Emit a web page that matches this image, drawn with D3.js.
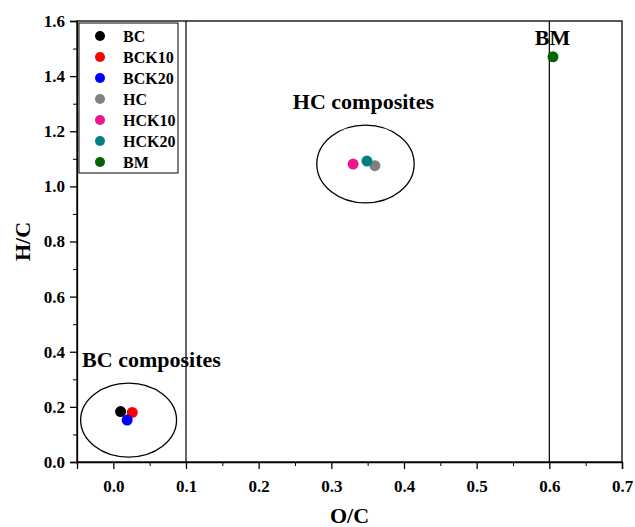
<!DOCTYPE html>
<html>
<head>
<meta charset="utf-8">
<script src="https://cdn.jsdelivr.net/npm/d3@7"></script>
<style>
  body { margin: 0; background: #fff; }
  text { font-family: "Liberation Serif", "Times New Roman", serif; font-weight: bold; }
</style>
</head>
<body>
<svg id="chart"></svg>
<script>
// samples and their elemental ratios
const samples = ["BC", "BCK10", "BCK20", "HC", "HCK10", "HCK20", "BM"];
const oc = [0.010, 0.026, 0.019, 0.360, 0.330, 0.349, 0.605];
const hc = [0.183, 0.180, 0.152, 1.075, 1.081, 1.092, 1.470];
const colors = ["#000000", "#ff0000", "#0000ff", "#808080", "#f0148c", "#008080", "#006400"];

const xTicks = [0, 0.1, 0.2, 0.3, 0.4, 0.5, 0.6, 0.7];
const yTicks = [0, 0.2, 0.4, 0.6, 0.8, 1.0, 1.2, 1.4, 1.6];
const vLines = [0.1, 0.6];

// group outlines (data units: cx, cy, rx, ry) and labels
const groupEllipse = [[0.021, 0.152, 0.066, 0.134], [0.347, 1.081, 0.067, 0.141]];
const labels = [["BC composites", -0.043, 0.345], ["HC composites", 0.247, 1.28], ["BM", 0.580, 1.513]];

const W = 635, H = 527;
const margin = { top: 21, right: 13, bottom: 65, left: 77 },
      width = W - margin.left - margin.right,
      height = H - margin.top - margin.bottom;

const svg = d3.select("#chart").attr("width", W).attr("height", H);
const g = svg.append("g").attr("transform", `translate(${margin.left},${margin.top})`);

const x = d3.scaleLinear().domain([-0.05, 0.7]).range([0, width]);
const y = d3.scaleLinear().domain([0, 1.6]).range([height, 0]);

// frame
g.append("rect").attr("width", width).attr("height", height)
  .attr("fill", "none").attr("stroke", "#000").attr("stroke-width", 1.3);

// minor ticks
const xMinor = d3.range(-0.05, 0.701, 0.05).filter(v => !xTicks.some(t => Math.abs(t - v) < 1e-6));
const yMinor = d3.range(0.1, 1.6, 0.2);
g.append("g").attr("transform", `translate(0,${height})`)
  .call(d3.axisBottom(x).tickValues(xMinor).tickSize(4).tickFormat(""))
  .call(a => a.select(".domain").remove());
g.append("g")
  .call(d3.axisLeft(y).tickValues(yMinor).tickSize(4).tickFormat(""))
  .call(a => a.select(".domain").remove());

// major axes
const xAxis = g.append("g").attr("transform", `translate(0,${height})`)
  .call(d3.axisBottom(x).tickValues(xTicks).tickSize(7).tickPadding(11).tickFormat(d3.format(".1f")));
const yAxis = g.append("g")
  .call(d3.axisLeft(y).tickValues(yTicks).tickSize(7).tickPadding(5).tickFormat(d3.format(".1f")));
[xAxis, yAxis].forEach(a => {
  a.selectAll("text").style("font-size", "17px").style("font-family", "Liberation Serif").style("font-weight", "bold").attr("fill", "#000");
  a.selectAll("line,path").attr("stroke", "#000").attr("stroke-width", 1.3);
});

// vertical reference lines
g.selectAll(".vline").data(vLines).enter().append("line")
  .attr("x1", d => x(d)).attr("x2", d => x(d))
  .attr("y1", 0).attr("y2", height)
  .attr("stroke", "#000").attr("stroke-width", 1.2);

// ellipses
g.selectAll(".grp").data(groupEllipse).enter().append("ellipse")
  .attr("cx", d => x(d[0])).attr("cy", d => y(d[1]))
  .attr("rx", d => x(d[0] + d[2]) - x(d[0]))
  .attr("ry", d => y(d[1]) - y(d[1] + d[3]))
  .attr("fill", "none").attr("stroke", "#000").attr("stroke-width", 1.3);

// points
g.selectAll(".pt").data(samples).enter().append("circle")
  .attr("cx", (d, i) => x(oc[i])).attr("cy", (d, i) => y(hc[i]))
  .attr("r", 5.5).attr("fill", (d, i) => colors[i]);

// labels
g.selectAll(".lab").data(labels).enter().append("text")
  .attr("x", d => x(d[1])).attr("y", d => y(d[2]))
  .style("font-size", "22px").text(d => d[0]);

// axis titles
svg.append("text").attr("x", margin.left + x(0.325)).attr("y", 523)
  .attr("text-anchor", "middle").style("font-size", "22px").text("O/C");
svg.append("text").attr("transform", `translate(30,${margin.top + height / 2}) rotate(-90)`)
  .attr("text-anchor", "middle").style("font-size", "22px").text("H/C");

// legend
const leg = g.append("g").attr("transform", "translate(2,2)");
leg.append("rect").attr("width", 99).attr("height", 150)
  .attr("fill", "#fff").attr("stroke", "#000").attr("stroke-width", 1);
samples.forEach((s, i) => {
  const row = leg.append("g").attr("transform", `translate(0,${13 + i * 21})`);
  row.append("circle").attr("cx", 21).attr("cy", 0).attr("r", 5).attr("fill", colors[i]);
  row.append("text").attr("x", 44).attr("y", 5.5).style("font-size", "16px").text(s);
});
</script>
</body>
</html>
